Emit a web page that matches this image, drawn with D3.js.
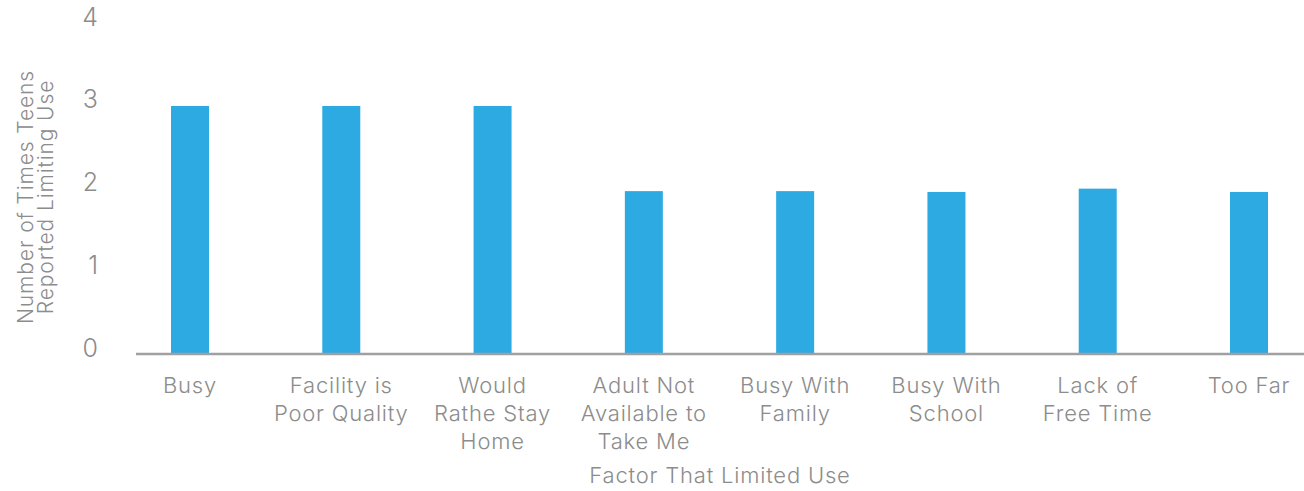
<!DOCTYPE html>
<html><head><meta charset="utf-8">
<script src="https://cdn.jsdelivr.net/npm/d3@7"></script>
<style>
body{margin:0;background:#fff;}
text{font-family:Inter,"Open Sans",sans-serif;fill:#8c8c8c;}
</style></head>
<body><svg id="chart" width="1304" height="491"></svg>
<script>
const categories = [
  ["Busy"],
  ["Facility is","Poor Quality"],
  ["Would","Rathe Stay","Home"],
  ["Adult Not","Available to","Take Me"],
  ["Busy With","Family"],
  ["Busy With","School"],
  ["Lack of","Free Time"],
  ["Too Far"]
];
const values = [3, 3, 3, 1.97, 1.97, 1.96, 2.0, 1.96];
const yTicks = [0, 1, 2, 3, 4];
const yTitle = ["Number of Times Teens", "Reported Limiting Use"];
const xTitle = "Factor That Limited Use";

const svg = d3.select("#chart");
const keys = categories.map((c,i)=>i);
const x = d3.scalePoint().domain(keys).range([190, 1249]);
const y = d3.scaleLinear().domain([0, 4]).range([354, 23.3]);
const barW = 38;

svg.append("g").selectAll("rect").data(values).join("rect")
  .attr("x",(d,i)=>x(i)-barW/2).attr("width",barW)
  .attr("y",d=>y(d)).attr("height",d=>y(0)-y(d))
  .attr("fill","#2eaae3");

svg.append("line").attr("x1",136).attr("x2",1304)
  .attr("y1",y(0)).attr("y2",y(0))
  .attr("stroke","#a0a0a3").attr("stroke-width",2.5);

const yAxis = d3.axisLeft(y).tickValues(yTicks).tickSize(0).tickPadding(0).tickFormat(d3.format("d"));
const ga = svg.append("g").attr("transform","translate(98,-6)").call(yAxis);
ga.select(".domain").remove();
ga.selectAll("text").style("font-size","25px").style("font-family","Inter, sans-serif").attr("fill","#8c8c8c").attr("font-weight",300);

const labels = svg.append("g").selectAll("text").data(categories).join("text")
  .attr("text-anchor","middle").attr("font-size","22px").attr("font-weight",300)
  .attr("letter-spacing","0.8px")
  .attr("transform",(d,i)=>`translate(${x(i)},393)`);
labels.selectAll("tspan").data(d=>d).join("tspan")
  .attr("x",0).attr("y",(d,j)=>j*28).text(d=>d);

svg.append("text").attr("x",720).attr("y",483).attr("text-anchor","middle")
  .attr("font-size","22px").attr("font-weight",300).attr("letter-spacing","0.8px").text(xTitle);

const yt = svg.append("text").attr("transform","translate(0,197) rotate(-90)")
  .attr("text-anchor","middle").attr("font-size","21px").attr("font-weight",300)
  .attr("letter-spacing","0.9px");
yt.selectAll("tspan").data(yTitle).join("tspan")
  .attr("x",0).attr("y",(d,j)=>33+j*19.5).text(d=>d);
</script></body></html>
